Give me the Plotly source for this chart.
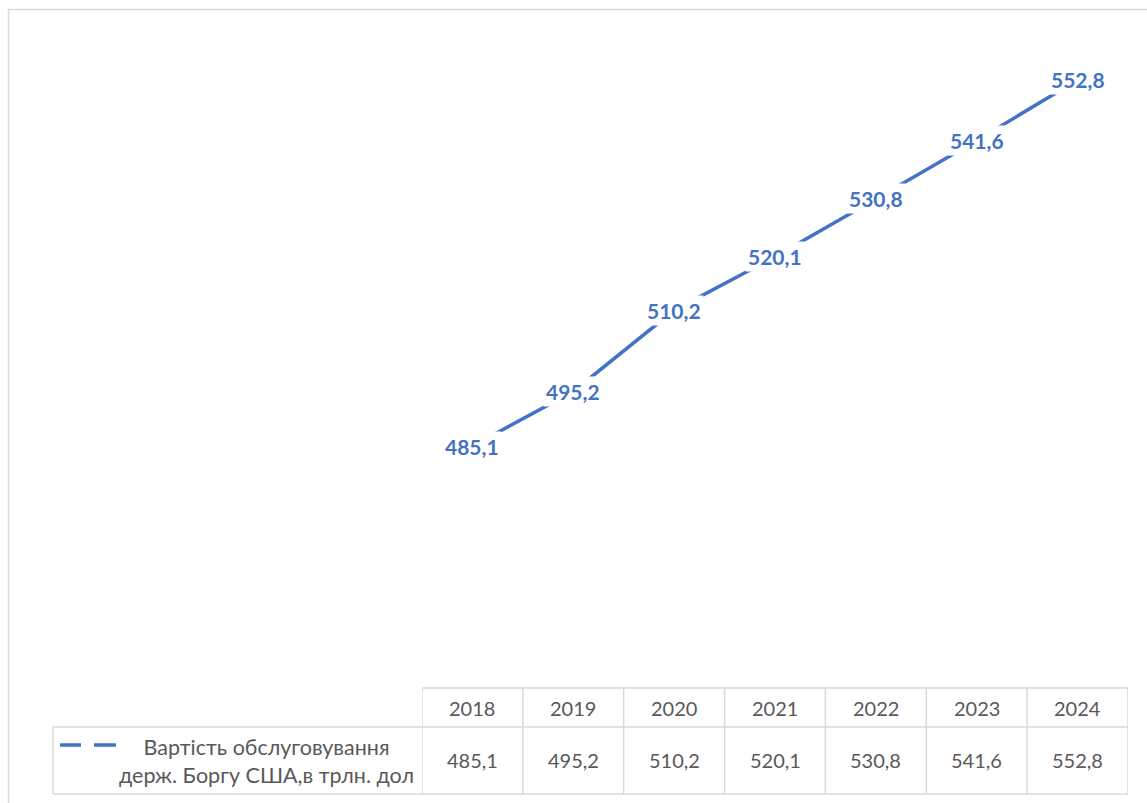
import plotly.graph_objects as go

years = ["2018", "2019", "2020", "2021", "2022", "2023", "2024"]
values = [485.1, 495.2, 510.2, 520.1, 530.8, 541.6, 552.8]
labels = ["485,1", "495,2", "510,2", "520,1", "530,8", "541,6", "552,8"]
series_name = ["Вартість обслуговування", "держ. Боргу США,в трлн. дол"]

W, H = 1147, 803
BLUE = "#4472C4"
GRID = "#D9D9D9"
TXT = "#595959"
FONT = "Lato, 'Open Sans', sans-serif"

def px(x):
    return x / W

def py(y):
    return 1 - y / H

x_idx = list(range(len(years)))

fig = go.Figure()
fig.add_trace(go.Scatter(
    x=x_idx, y=values, mode="lines",
    line=dict(color=BLUE, width=3.5),
    hoverinfo="skip", showlegend=False,
))

annotations = []
for i, (v, lab) in enumerate(zip(values, labels)):
    annotations.append(dict(
        x=i, y=v, xref="x", yref="y", text=f"<b>{lab}</b>", showarrow=False,
        font=dict(family=FONT, size=21, color=BLUE),
        bgcolor="white", borderpad=2, xanchor="center", yanchor="middle",
    ))

# table text
for i, (yr, lab) in enumerate(zip(years, labels)):
    annotations.append(dict(
        x=i, y=py(708), xref="x", yref="paper", text=yr, showarrow=False,
        font=dict(family=FONT, size=20, color=TXT), xanchor="center", yanchor="middle",
    ))
    annotations.append(dict(
        x=i, y=py(760), xref="x", yref="paper", text=lab, showarrow=False,
        font=dict(family=FONT, size=20, color=TXT), xanchor="center", yanchor="middle",
    ))

annotations.append(dict(
    x=px(266), y=py(761), xref="paper", yref="paper",
    text="<br>".join(series_name), showarrow=False, align="center",
    font=dict(family=FONT, size=21.5, color=TXT), xanchor="center", yanchor="middle",
))

shapes = []
# outer chart border
shapes.append(dict(type="rect", xref="paper", yref="paper",
                   x0=px(8.5), x1=px(1160), y0=py(9.5), y1=py(820),
                   line=dict(color=GRID, width=1.5), fillcolor="rgba(0,0,0,0)", layer="below"))
# table horizontal lines
shapes.append(dict(type="line", xref="x", yref="paper", x0=-0.5, x1=6.5,
                   y0=py(688), y1=py(688), line=dict(color=GRID, width=1.5)))
for yy in (727, 794):
    shapes.append(dict(type="line", xref="paper", yref="paper", x0=px(53), x1=px(1128),
                       y0=py(yy), y1=py(yy), line=dict(color=GRID, width=1.5)))
# left border of legend cell
shapes.append(dict(type="line", xref="paper", yref="paper", x0=px(53), x1=px(53),
                   y0=py(727), y1=py(794), line=dict(color=GRID, width=1.5)))
# column borders
for k in range(len(years) + 1):
    shapes.append(dict(type="line", xref="x", yref="paper", x0=k - 0.5, x1=k - 0.5,
                       y0=py(688), y1=py(794), line=dict(color=GRID, width=1.5)))
# legend key (dashed line: two dashes)
for a, b in ((60, 81), (94, 116)):
    shapes.append(dict(type="line", xref="paper", yref="paper", x0=px(a), x1=px(b),
                       y0=py(745), y1=py(745), line=dict(color=BLUE, width=3.5)))

fig.update_layout(
    width=W, height=H,
    margin=dict(l=0, r=0, t=0, b=0),
    paper_bgcolor="white", plot_bgcolor="white",
    xaxis=dict(domain=[px(422), px(1128)], range=[-0.5, 6.5], visible=False, fixedrange=True),
    yaxis=dict(domain=[py(690), py(41)], range=[440, 560], visible=False, fixedrange=True),
    annotations=annotations, shapes=shapes,
    showlegend=False,
)

fig.write_html("out.html", config=dict(displayModeBar=False))
